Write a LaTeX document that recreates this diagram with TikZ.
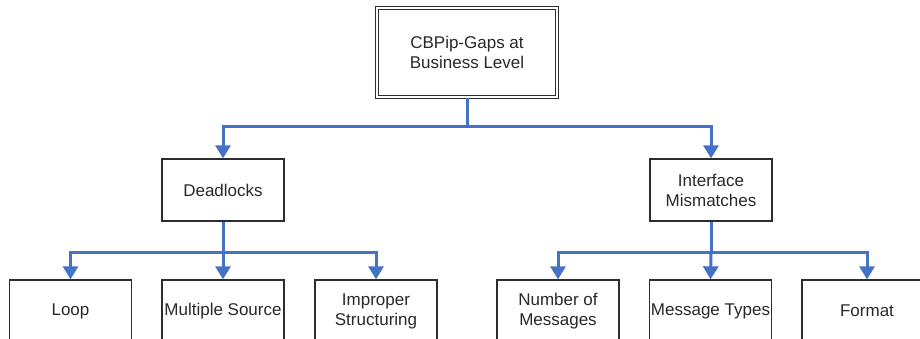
\documentclass[tikz,border=0pt]{standalone}
\usepackage{fontspec}
\setmainfont{Liberation Sans}
\usetikzlibrary{arrows.meta}
\definecolor{linkblue}{RGB}{68,114,196}
\definecolor{boxline}{RGB}{45,45,45}
\definecolor{txt}{RGB}{40,40,40}
\begin{document}
\begin{tikzpicture}[x=1pt,y=-1pt,
  box/.style={draw=boxline,line width=1.3pt,rectangle,inner sep=0pt,
    minimum width=122pt,minimum height=62pt,align=center,text=txt,
    font=\fontsize{17}{20}\selectfont},
  topbox/.style={box,double=white,double distance=2.2pt,line width=1.1pt,
    minimum width=180pt,minimum height=89pt},
  conn/.style={draw=linkblue,line width=3pt,
    -{Triangle[width=15pt,length=13pt]}},
  trunk/.style={draw=linkblue,line width=3pt}]
\useasboundingbox (0,0) rectangle (920,339);
\node[topbox] (T) at (467,52.5) {CBPip-Gaps at\\Business Level};
\node[box] (D) at (223,190) {Deadlocks};
\node[box] (I) at (711,190) {Interface\\Mismatches};
\node[box] (L) at (70.5,311) {Loop};
\node[box] (M) at (223,311) {Multiple Source};
\node[box] (S) at (376,311) {Improper\\Structuring};
\node[box] (N) at (558,311) {Number of\\Messages};
\node[box] (Y) at (710.5,311) {Message Types};
\node[box,minimum width=130pt] (F) at (867,311) {Format};
\coordinate (j0) at (467,127);
\coordinate (j1) at (223,252);
\coordinate (j2) at (711,252);
\draw[conn] (T.south) -- (j0) -| (D.north);
\draw[conn] (j0) -| (I.north);
\draw[conn] (D.south) -- (j1) -| (L.north);
\draw[conn] (j1) -- (M.north);
\draw[conn] (j1) -| (S.north);
\draw[conn] (I.south) -- (j2) -| (N.north);
\draw[conn] (j2) -- (Y.north);
\draw[conn] (j2) -| (F.north);
\end{tikzpicture}
\end{document}
